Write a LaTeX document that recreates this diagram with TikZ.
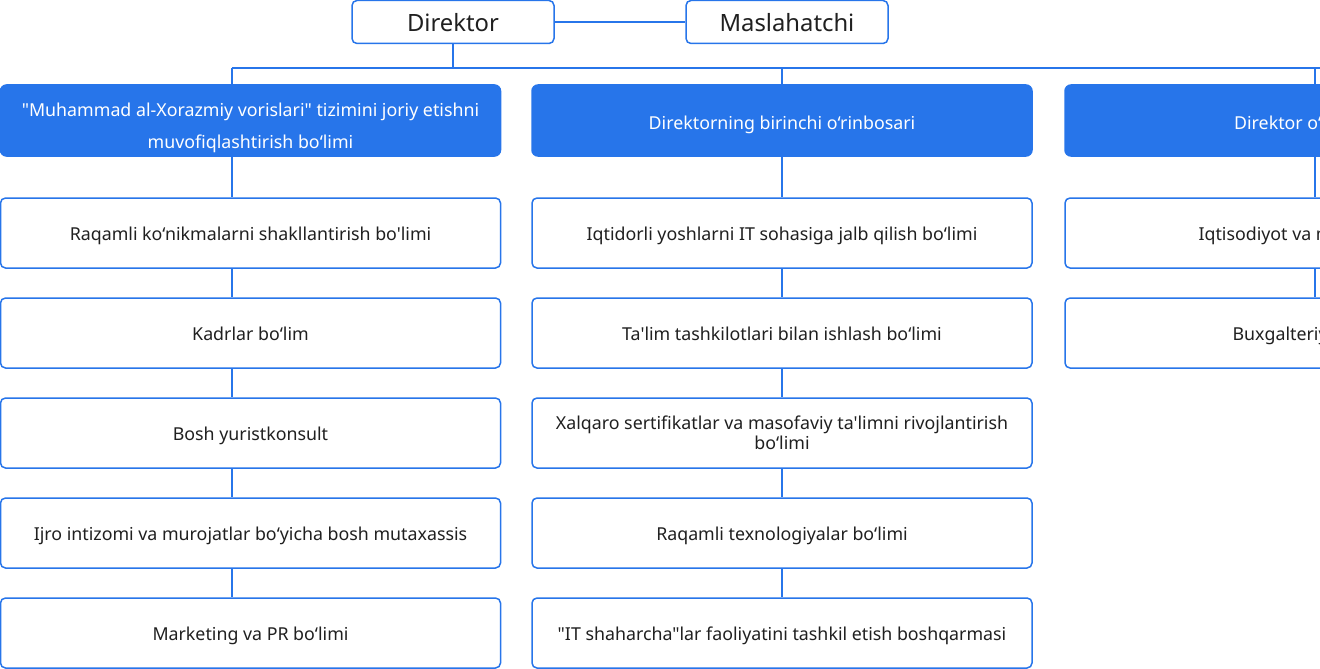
\documentclass[tikz,border=0pt]{standalone}
\usepackage{fontspec}
\newfontfamily\orgfont{Noto Sans}
\definecolor{orgblue}{HTML}{2775EA}
\definecolor{orgtext}{HTML}{202020}

\begin{document}
\begin{tikzpicture}[x=1pt,y=-1pt,
  deptbox/.style={draw=orgblue,line width=1.5pt,rounded corners=5pt,fill=white,minimum width=500pt,minimum height=70pt,inner sep=2pt,align=center,text=orgtext,text height=14pt,text depth=0pt,font=\orgfont\fontsize{17.8}{20}\selectfont},
  twoline/.style={text height=,text depth=},
  oneline/.style={},
  leadbox/.style={deptbox,fill=orgblue,text=white,minimum height=71pt,rounded corners=6pt,text height=17pt,font=\orgfont\fontsize{17.8}{32}\selectfont},
  chiefbox/.style={deptbox,minimum width=202pt,minimum height=43pt,text height=19pt,font=\orgfont\fontsize{23.8}{26}\selectfont},
  link/.style={orgblue,line width=2pt}]
\useasboundingbox (0,0) rectangle (1320,669);
\clip (0,0) rectangle (1320,669);
% top level
\node[chiefbox] (dir) at (453,22) {Direktor};
\node[chiefbox] (mas) at (787,22) {Maslahatchi};
% heads of the three branches
\node[leadbox,twoline] (d1) at (250.5,120.5) {\raisebox{-6pt}[\height][\depth]{\begin{tabular}{@{}c@{}}"Muhammad al-Xorazmiy vorislari" tizimini joriy etishni\\muvofiqlashtirish bo‘limi\end{tabular}}};
\node[leadbox] (d2) at (782,120.5) {Direktorning birinchi o‘rinbosari};
\node[leadbox] (d3) at (1315,120.5) {Direktor o‘rinbosari};
% departments
\foreach \s/\t [count=\i] in %
{oneline/{Raqamli ko‘nikmalarni shakllantirish bo'limi},oneline/{Kadrlar bo‘lim},oneline/{Bosh yuristkonsult},%
 oneline/{Ijro intizomi va murojatlar bo‘yicha bosh mutaxassis},oneline/{Marketing va PR bo‘limi}} {
   \node[deptbox,\s] (a\i) at (250.5,133+100*\i) {\t};
}
\foreach \s/\t [count=\i] in %
{oneline/{Iqtidorli yoshlarni IT sohasiga jalb qilish bo‘limi},oneline/{Ta'lim tashkilotlari bilan ishlash bo‘limi},%
 twoline/{Xalqaro sertifikatlar va masofaviy ta'limni rivojlantirish\\bo‘limi},oneline/{Raqamli texnologiyalar bo‘limi},%
 oneline/{"IT shaharcha"lar faoliyatini tashkil etish boshqarmasi}} {
   \node[deptbox,\s] (b\i) at (782,133+100*\i) {\t};
}
\foreach \s/\t [count=\i] in %
{oneline/{Iqtisodiyot va moliya bo‘limi},oneline/{Buxgalteriya bo‘limi}} {
   \node[deptbox,\s] (c\i) at (1315,133+100*\i) {\t};
}
% connectors
\coordinate (bus1) at (232,68);
\coordinate (bus3) at (1320,68);
\draw[link] (dir) -- (mas);
\draw[link] (dir.south) -- (dir.south |- bus1);
\draw[link] (bus1) -- (bus3);
\draw[link] (bus1) -- (bus1 |- d1.north);
\draw[link] (d2.north |- bus1) -- (d2.north);
\draw[link] (d3.north |- bus1) -- (d3.north);
\draw[link] (bus1 |- d1.south) -- (bus1 |- a1.north);
\draw[link] (d2.south) -- (b1.north);
\draw[link] (d3.south) -- (c1.north);
\draw[link] (c1.south) -- (c2.north);
\foreach \i/\j in {1/2,2/3,3/4,4/5} {
   \draw[link] (bus1 |- a\i.south) -- (bus1 |- a\j.north);
   \draw[link] (b\i.south) -- (b\j.north);
}
\end{tikzpicture}
\end{document}
